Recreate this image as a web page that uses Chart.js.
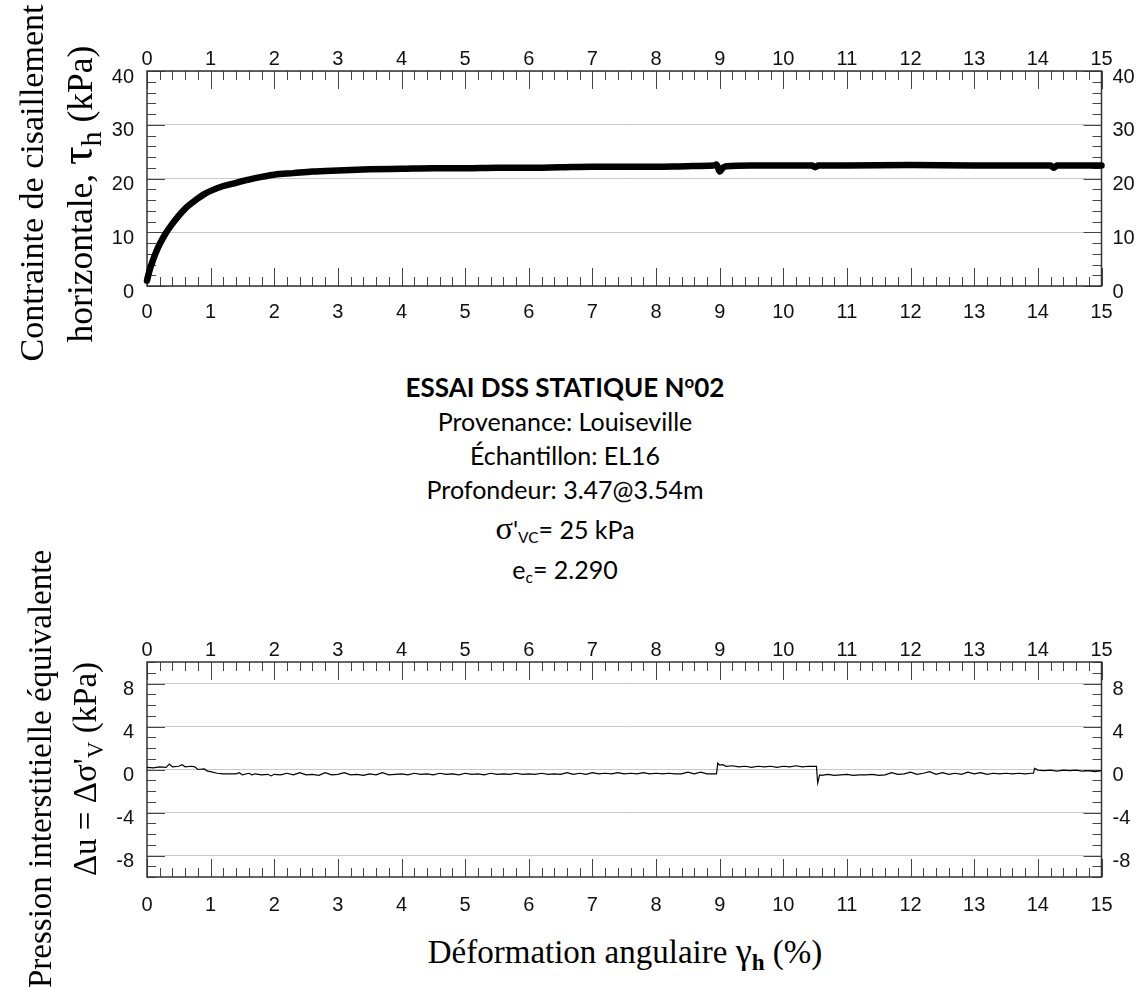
<!DOCTYPE html>
<html>
<head>
<meta charset="utf-8">
<script src="https://cdn.jsdelivr.net/npm/chart.js@4.4.1/dist/chart.umd.min.js"></script>
<style>
  body { margin: 0; background: #fff; width: 1139px; height: 988px; position: relative; overflow: hidden; }
  canvas { position: absolute; left: 0; }
  #tauChart { top: 0; }
  #duChart { top: 590px; }
  .serif { font-family: 'Liberation Serif', 'Times New Roman', serif; color: #000; }
  .ytitle { position: absolute; width: 480px; height: 90px; line-height: 45px; text-align: center;
            white-space: nowrap; transform: rotate(-90deg); transform-origin: 50% 50%; }
  #tauTitle { font-size: 34px; left: -186.5px; top: 138px; }
  #tauTitle .l2 { font-size: 35.5px; position: relative; left: -11px; }
  #duTitle { font-size: 33px; left: -177px; top: 724px; }
  #xTitle { position: absolute; left: 325px; width: 600px; top: 931px; font-size: 33px; line-height: 40px; text-align: center; white-space: nowrap; }
  .gk { font-size: 1.1em; }
  .gk2 { font-size: 1.3em; }
  sub { font-size: 0.7em; vertical-align: -0.3em; line-height: 0; }
  sub.big { font-size: 0.85em; vertical-align: -0.3em; }
  .info { position: absolute; left: 265px; width: 600px; text-align: center; white-space: nowrap;
          font-family: Lato, 'Open Sans', sans-serif; font-size: 25px; line-height: 25px; color: #000; }
  .info.head { font-size: 26px; line-height: 26px; font-weight: 700; }
  .info sup { font-size: 0.65em; vertical-align: 0.55em; line-height: 0; }
  .info sub { font-size: 0.62em; vertical-align: -0.25em; }
  .sig { font-family: 'Liberation Serif', 'Times New Roman', serif; font-size: 1.3em; }
</style>
</head>
<body>
<canvas id="tauChart" width="1139" height="340"></canvas>
<canvas id="duChart" width="1139" height="340"></canvas>

<div class="ytitle serif" id="tauTitle">Contrainte de cisaillement<br><span class="l2">horizontale, <span class="gk2">τ</span><sub class="big">h</sub> (kPa)</span></div>
<div class="ytitle serif" id="duTitle">Pression interstitielle équivalente<br>Δu = Δσ'<sub>V</sub> (kPa)</div>
<div class="serif" id="xTitle">Déformation angulaire <span class="gk">γ</span><sub><b>h</b></sub> (%)</div>

<div class="info head" style="top:374px">ESSAI DSS STATIQUE N<sup>o</sup>02</div>
<div class="info" style="top:409px">Provenance: Louiseville</div>
<div class="info" style="top:443px">Échantillon: EL16</div>
<div class="info" style="top:477px">Profondeur: 3.47@3.54m</div>
<div class="info" style="top:516px"><span class="sig">σ</span>'<sub>VC</sub>= 25 kPa</div>
<div class="info" style="top:557px">e<sub>c</sub>= 2.290</div>

<script>
// déformation angulaire (%) vs contrainte de cisaillement (kPa)
const tauX = [0, 0.02, 0.05, 0.1, 0.15, 0.2, 0.3, 0.4, 0.5, 0.6,
              0.7, 0.8, 0.9, 1.0, 1.2, 1.4, 1.6, 1.8, 2.0, 2.3,
              2.6, 3.0, 3.5, 4.0, 4.5, 5.0, 5.5, 6.0, 6.5, 7.0,
              7.5, 8.0, 8.5, 8.9, 8.95, 9.0, 9.05, 9.1, 9.5, 10.0,
              10.45, 10.5, 10.55, 11.0, 12.0, 13.0, 14.0, 14.2, 14.25, 14.3,
              15.0];
const tauY = [1.0, 2.0, 3.3, 5.0, 6.5, 7.8, 9.9, 11.6, 13.1, 14.4,
              15.4, 16.3, 17.1, 17.7, 18.6, 19.2, 19.8, 20.3, 20.7, 21.0,
              21.3, 21.5, 21.7, 21.8, 21.9, 21.9, 22.0, 22.0, 22.1, 22.2,
              22.2, 22.2, 22.3, 22.4, 22.6, 21.3, 22.0, 22.3, 22.4, 22.4,
              22.4, 22.1, 22.4, 22.4, 22.5, 22.4, 22.4, 22.4, 22.0, 22.4,
              22.4];

// pression interstitielle équivalente (kPa)
const duX = [0, 0.1, 0.2, 0.3, 0.35, 0.4, 0.5, 0.55, 0.6, 0.7,
             0.75, 0.8, 0.9, 0.95, 1.0, 1.1, 1.2, 1.3, 1.4, 1.45,
             1.5, 1.6, 1.65, 1.7, 1.8, 1.9, 1.95, 2.0, 2.1, 2.2,
             2.3, 2.4, 2.5, 2.6, 2.7, 2.8, 2.9, 3.0, 3.1, 3.2,
             3.3, 3.4, 3.5, 3.6, 3.7, 3.8, 3.9, 4.0, 4.1, 4.2,
             4.3, 4.4, 4.5, 4.6, 4.7, 4.8, 4.9, 5.0, 5.1, 5.2,
             5.3, 5.4, 5.5, 5.6, 5.7, 5.8, 5.9, 6.0, 6.1, 6.2,
             6.3, 6.4, 6.5, 6.6, 6.7, 6.8, 6.9, 7.0, 7.1, 7.2,
             7.3, 7.4, 7.5, 7.6, 7.7, 7.8, 7.9, 8.0, 8.1, 8.2,
             8.3, 8.4, 8.5, 8.6, 8.7, 8.8, 8.9, 8.95, 8.97, 9.0,
             9.05, 9.1, 9.2, 9.3, 9.4, 9.5, 9.6, 9.7, 9.8, 9.9,
             10.0, 10.1, 10.2, 10.3, 10.4, 10.5, 10.52, 10.54, 10.57, 10.6,
             10.7, 10.8, 10.9, 11.0, 11.1, 11.2, 11.3, 11.4, 11.5, 11.6,
             11.7, 11.8, 11.9, 12.0, 12.1, 12.2, 12.3, 12.4, 12.5, 12.6,
             12.7, 12.8, 12.9, 13.0, 13.1, 13.2, 13.3, 13.4, 13.5, 13.6,
             13.7, 13.8, 13.9, 13.93, 13.95, 14.0, 14.1, 14.2, 14.3, 14.4,
             14.5, 14.6, 14.7, 14.8, 14.9, 15.0];
const duY = [0.2, 0.15, 0.25, 0.2, 0.5, 0.25, 0.3, 0.45, 0.25, 0.3,
             0.25, 0.0, 0.05, -0.15, -0.2, -0.35, -0.4, -0.4, -0.4, -0.3,
             -0.5, -0.35, -0.5, -0.4, -0.5, -0.45, -0.6, -0.45, -0.5, -0.35,
             -0.5, -0.3, -0.5, -0.45, -0.55, -0.3, -0.5, -0.45, -0.3, -0.5,
             -0.45, -0.55, -0.4, -0.5, -0.3, -0.5, -0.45, -0.4, -0.5, -0.35,
             -0.45, -0.4, -0.5, -0.35, -0.45, -0.4, -0.5, -0.35, -0.45, -0.4,
             -0.5, -0.35, -0.45, -0.4, -0.45, -0.35, -0.45, -0.4, -0.45, -0.35,
             -0.45, -0.4, -0.45, -0.3, -0.45, -0.35, -0.45, -0.3, -0.4, -0.35,
             -0.4, -0.3, -0.4, -0.35, -0.4, -0.3, -0.4, -0.35, -0.4, -0.35,
             -0.4, -0.4, -0.25, -0.4, -0.25, -0.4, -0.4, -0.4, 0.6, 0.4,
             0.45, 0.3, 0.35, 0.25, 0.3, 0.2, 0.3, 0.25, 0.3, 0.2,
             0.3, 0.25, 0.35, 0.25, 0.3, 0.3, 0.3, -1.25, -0.5, -0.55,
             -0.45, -0.55, -0.5, -0.45, -0.55, -0.5, -0.5, -0.45, -0.55, -0.5,
             -0.3, -0.45, -0.4, -0.25, -0.45, -0.35, -0.2, -0.45, -0.3, -0.45,
             -0.35, -0.45, -0.25, -0.4, -0.3, -0.45, -0.35, -0.4, -0.35, -0.4,
             -0.35, -0.4, -0.35, -0.35, 0.1, -0.05, -0.1, -0.05, -0.15, -0.05,
             -0.1, -0.05, -0.15, -0.1, -0.2, -0.1];

// tick labels
const xTicks = [0, 1, 2, 3, 4, 5, 6, 7, 8, 9, 10, 11, 12, 13, 14, 15];
const tauTicks = [0, 10, 20, 30, 40];
const duTicks = [-8, -4, 0, 4, 8];

Chart.defaults.font.family = 'Liberation Sans, Arial, sans-serif';
Chart.defaults.font.size = 20;
const tickFont = { family: 'Liberation Sans, Arial, sans-serif', size: 20 };
const tickColor = '#111';

// ticks pointing inward on all four sides + frame
const innerTicks = {
  id: 'innerTicks',
  beforeDatasetsDraw(chart, args, opts) {
    const { ctx, chartArea: a, scales } = chart;
    const x = scales.x, y = scales.y;
    ctx.save();
    ctx.strokeStyle = '#444';
    ctx.lineWidth = 1;
    ctx.beginPath();
    let n = Math.round((x.max - x.min) / opts.xMinor);
    for (let i = 0; i <= n; i++) {
      const v = x.min + i * opts.xMinor;
      const px = Math.round(x.getPixelForValue(v)) + 0.5;
      const len = Math.abs(v / opts.xMajor - Math.round(v / opts.xMajor)) < 1e-6 ? 18 : 9;
      ctx.moveTo(px, a.top); ctx.lineTo(px, a.top + len);
      ctx.moveTo(px, a.bottom); ctx.lineTo(px, a.bottom - len);
    }
    n = Math.round((y.max - y.min) / opts.yMinor);
    for (let i = 0; i <= n; i++) {
      const v = y.min + i * opts.yMinor;
      const py = Math.round(y.getPixelForValue(v)) + 0.5;
      const len = Math.abs(v / opts.yMajor - Math.round(v / opts.yMajor)) < 1e-6 ? 18 : 9;
      ctx.moveTo(a.left, py); ctx.lineTo(a.left + len, py);
      ctx.moveTo(a.right, py); ctx.lineTo(a.right - len, py);
    }
    ctx.stroke();
    ctx.lineWidth = 1.5;
    ctx.strokeStyle = '#333';
    ctx.strokeRect(a.left, a.top, a.right - a.left, a.bottom - a.top);
    ctx.restore();
  }
};

function makeScales(yMin, yMax, yTicks, topH, bottomH, bottomPad) {
  const setTicks = list => s => { s.ticks = list.map(v => ({ value: v })); };
  const common = { type: 'linear', border: { display: false } };
  const noGrid = { display: false, drawTicks: false };
  return {
    x: { ...common, position: 'bottom', min: 0, max: 15,
         afterBuildTicks: setTicks(xTicks), afterFit: s => { s.height = bottomH; },
         grid: noGrid,
         ticks: { font: tickFont, color: tickColor, padding: bottomPad, maxRotation: 0, callback: v => String(v) } },
    x2: { ...common, position: 'top', min: 0, max: 15,
          afterBuildTicks: setTicks(xTicks), afterFit: s => { s.height = topH; },
          grid: noGrid,
          ticks: { font: tickFont, color: tickColor, padding: 0, maxRotation: 0, callback: v => String(v) } },
    y: { ...common, position: 'left', min: yMin, max: yMax,
         afterBuildTicks: setTicks(yTicks), afterFit: s => { s.width = 147; },
         grid: { color: '#c8c8c8', lineWidth: 1, drawTicks: false },
         ticks: { font: tickFont, color: tickColor, padding: 13, labelOffset: 6, callback: v => String(v) } },
    y2: { ...common, position: 'right', min: yMin, max: yMax,
          afterBuildTicks: setTicks(yTicks), afterFit: s => { s.width = 1139 - 1101.5; },
          grid: noGrid,
          ticks: { font: tickFont, color: tickColor, padding: 11, labelOffset: 6, callback: v => String(v) } }
  };
}

const baseOptions = {
  responsive: false,
  animation: false,
  layout: { padding: 0 },
  plugins: { legend: { display: false }, tooltip: { enabled: false } }
};

new Chart(document.getElementById('tauChart'), {
  type: 'line',
  data: {
    datasets: [{
      data: tauX.map((v, i) => ({ x: v, y: tauY[i] })),
      borderColor: '#000',
      borderWidth: 6.5,
      borderCapStyle: 'round',
      borderJoinStyle: 'round',
      cubicInterpolationMode: 'monotone',
      pointRadius: 0,
      clip: false
    }]
  },
  options: {
    ...baseOptions,
    scales: makeScales(0, 40, tauTicks, 71, 54, 14),
    plugins: { ...baseOptions.plugins, innerTicks: { xMinor: 0.2, xMajor: 1, yMinor: 2, yMajor: 10 } }
  },
  plugins: [innerTicks]
});

new Chart(document.getElementById('duChart'), {
  type: 'line',
  data: {
    datasets: [{
      data: duX.map((v, i) => ({ x: v, y: duY[i] })),
      borderColor: '#000',
      borderWidth: 1.2,
      pointRadius: 0,
      tension: 0
    }]
  },
  options: {
    ...baseOptions,
    scales: makeScales(-10, 10, duTicks, 72, 53, 16),
    plugins: { ...baseOptions.plugins, innerTicks: { xMinor: 0.2, xMajor: 1, yMinor: 1, yMajor: 4 } }
  },
  plugins: [innerTicks]
});
</script>
</body>
</html>
